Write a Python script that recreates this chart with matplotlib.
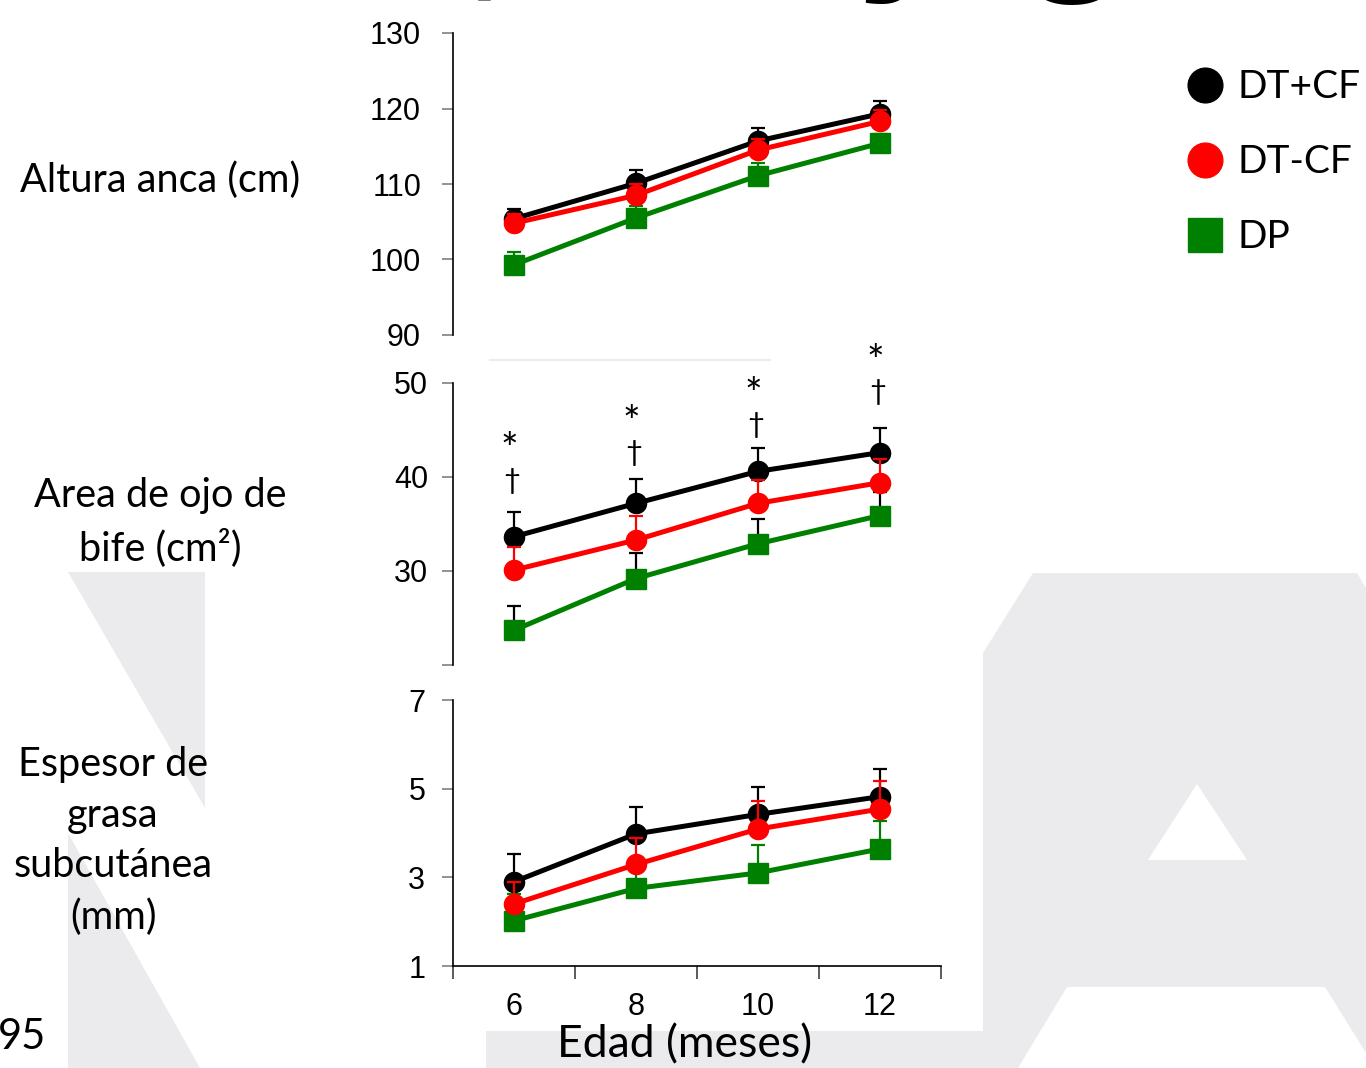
import matplotlib
matplotlib.use("Agg")
import matplotlib.pyplot as plt
from matplotlib.patches import Polygon
from matplotlib.lines import Line2D

# ---------------- data ----------------
meses = [6, 8, 10, 12]
grupos = ["DT+CF", "DT-CF", "DP"]

altura_dtcf_mas = [105.4, 110.1, 115.7, 119.3]
altura_dtcf_mas_err = [1.3, 1.8, 1.7, 1.7]
altura_dtcf_menos = [104.8, 108.5, 114.5, 118.3]
altura_dtcf_menos_err = [1.2, 1.5, 1.5, 1.5]
altura_dp = [99.3, 105.5, 111.1, 115.4]
altura_dp_err = [1.7, 1.6, 1.7, 1.2]

aob_dtcf_mas = [33.65, 37.2, 40.6, 42.6]
aob_dtcf_mas_err = [2.6, 2.55, 2.5, 2.6]
aob_dtcf_menos = [30.1, 33.3, 37.2, 39.4]
aob_dtcf_menos_err = [2.5, 2.6, 2.5, 2.5]
aob_dp = [23.7, 29.2, 32.9, 35.9]
aob_dp_err = [2.6, 2.7, 2.6, 2.5]
aob_star_y = [42.75, 45.65, 48.65, 52.15]
aob_dagger_y = [39.6, 42.55, 45.5, 49.0]

grasa_dtcf_mas = [2.90, 3.98, 4.42, 4.82]
grasa_dtcf_mas_err = [0.62, 0.61, 0.62, 0.62]
grasa_dtcf_menos = [2.40, 3.29, 4.09, 4.54]
grasa_dtcf_menos_err = [0.5, 0.6, 0.63, 0.64]
grasa_dp = [2.02, 2.75, 3.10, 3.64]
grasa_dp_err = [0.6, 0.55, 0.64, 0.62]

y_ticks_altura = [90, 100, 110, 120, 130]
y_ticks_aob = [20, 30, 40, 50]
y_tick_labels_aob = ["", "30", "40", "50"]
y_ticks_grasa = [1, 3, 5, 7]
x_major = [5, 7, 9, 11, 13]

# ---------------- figure ----------------
W, H = 1366, 1068
fig = plt.figure(figsize=(W / 100, H / 100), dpi=100)
fig.patch.set_facecolor("white")

def fx(x):
    return x / W

def fy(y):
    return 1 - y / H

WM = "#ebebed"
TXT_FONT = ["Lato", "DejaVu Sans"]
NUM_FONT = ["Liberation Sans", "DejaVu Sans"]

# watermark background shapes
def poly(pts, color):
    p = Polygon([(fx(a), fy(b)) for a, b in pts], closed=True, facecolor=color,
                edgecolor="none", transform=fig.transFigure, zorder=-10)
    fig.add_artist(p)

poly([(68, 572), (205, 572), (205, 808)], WM)
poly([(68, 833), (68, 1068), (200, 1068)], WM)
poly([(983, 653), (1033, 573), (1357, 573), (1366, 588), (1366, 1053),
      (1325, 987), (1067, 987), (1018, 1068), (486, 1068), (486, 1031),
      (983, 1031)], WM)
poly([(1148, 860), (1197, 784), (1247, 860)], "white")
fig.add_artist(Line2D([fx(490), fx(770)], [fy(360), fy(360)], color="#ececec",
                      lw=1.5, transform=fig.transFigure, zorder=-9))

# cut title fragment at top (only descenders are visible)
fig.text(fx(507), fy(-22), "Crecimiento,", fontsize=100, fontweight="bold",
         family=NUM_FONT, ha="right", va="baseline")
fig.text(fx(856), fy(-36), "y grasa", fontsize=138, fontweight="bold",
         family=NUM_FONT, ha="left", va="baseline")

AX_L, AX_R = 453, 941

def make_ax(top, bottom):
    ax = fig.add_axes([fx(AX_L), fy(bottom), (AX_R - AX_L) / W, (bottom - top) / H])
    ax.set_facecolor("none")
    for s in ["top", "right"]:
        ax.spines[s].set_visible(False)
    ax.spines["left"].set_linewidth(1.2)
    ax.set_xlim(5, 13)
    return ax

LW = 3.6
MS = 14.5

def series(ax, y, e, color, marker, ecolor, z):
    ax.errorbar(meses, y, yerr=[[0] * len(e), e], color=color, lw=LW, marker=marker,
                ms=MS, mec=color, mfc=color, ecolor=ecolor, elinewidth=1.6,
                capsize=5, capthick=1.6, zorder=z, clip_on=False)

# --- top panel
ax1 = make_ax(33, 335)
ax1.set_ylim(90, 130)
ax1.set_yticks(y_ticks_altura)
ax1.spines["bottom"].set_visible(False)
ax1.tick_params(axis="x", bottom=False, labelbottom=False)
ax1.tick_params(axis="y", length=8, width=1.2, color="#808080", pad=15, labelsize=22)
series(ax1, altura_dp, altura_dp_err, "#008000", "s", "#008000", 3)
series(ax1, altura_dtcf_mas, altura_dtcf_mas_err, "black", "o", "black", 4)
series(ax1, altura_dtcf_menos, altura_dtcf_menos_err, "#ff0000", "o", "#ff0000", 5)

# --- middle panel
ax2 = make_ax(383, 665)
ax2.set_ylim(20, 50)
ax2.set_yticks(y_ticks_aob)
ax2.set_yticklabels(y_tick_labels_aob)
ax2.spines["bottom"].set_visible(False)
ax2.tick_params(axis="x", bottom=False, labelbottom=False)
ax2.tick_params(axis="y", length=8, width=1.2, color="#808080", pad=10, labelsize=22)
series(ax2, aob_dp, aob_dp_err, "#008000", "s", "black", 3)
series(ax2, aob_dtcf_mas, aob_dtcf_mas_err, "black", "o", "black", 4)
series(ax2, aob_dtcf_menos, aob_dtcf_menos_err, "#ff0000", "o", "#ff0000", 5)
for x, ys, yd in zip(meses, aob_star_y, aob_dagger_y):
    ax2.text(x - 0.07, ys, "*", fontsize=30, family=TXT_FONT, ha="center",
             va="center", clip_on=False)
    ax2.text(x - 0.04, yd, "\u2020", fontsize=21, family=TXT_FONT, ha="center",
             va="center", clip_on=False)

# --- bottom panel
ax3 = make_ax(700, 966)
ax3.set_ylim(1, 7)
ax3.set_yticks(y_ticks_grasa)
ax3.spines["bottom"].set_linewidth(1.2)
ax3.set_xticks(x_major)
ax3.set_xticklabels([""] * len(x_major))
ax3.set_xticks(meses, minor=True)
ax3.set_xticklabels([str(m) for m in meses], minor=True)
ax3.tick_params(axis="x", which="major", length=9, width=1.2, color="#404040")
ax3.tick_params(axis="x", which="minor", length=0, pad=19, labelsize=22)
ax3.tick_params(axis="y", length=8, width=1.2, color="#808080", pad=12, labelsize=22)
series(ax3, grasa_dp, grasa_dp_err, "#008000", "s", "#008000", 3)
series(ax3, grasa_dtcf_mas, grasa_dtcf_mas_err, "black", "o", "black", 4)
series(ax3, grasa_dtcf_menos, grasa_dtcf_menos_err, "#ff0000", "o", "#ff0000", 5)

for ax in (ax1, ax2, ax3):
    for lab in ax.get_yticklabels() + ax.get_xticklabels(which="both"):
        lab.set_family(NUM_FONT)

# --- labels
fig.text(fx(160), fy(180), "Altura anca (cm)", fontsize=28.5, family=TXT_FONT,
         ha="center", va="center")
fig.text(fx(160), fy(522), "Area de ojo de\nbife (cm\u00b2)", fontsize=28.5,
         family=TXT_FONT, ha="center", va="center", linespacing=1.45)
fig.text(fx(113), fy(841), "Espesor de\ngrasa\nsubcut\u00e1nea\n(mm)", fontsize=28.5,
         family=TXT_FONT, ha="center", va="center", linespacing=1.45)
fig.text(fx(685), fy(1045), "Edad (meses)", fontsize=32, family=TXT_FONT,
         ha="center", va="center")
fig.text(fx(-2), fy(1037), "95", fontsize=30, family=TXT_FONT, ha="left",
         va="center")

# --- legend
handles = [
    Line2D([], [], ls="none", marker="o", color="black", ms=25),
    Line2D([], [], ls="none", marker="o", color="#ff0000", ms=25),
    Line2D([], [], ls="none", marker="s", color="#008000", ms=25),
]
fig.legend(handles, grupos, loc="upper left", bbox_to_anchor=(fx(1166), fy(50)),
           frameon=False, prop={"family": TXT_FONT, "size": 28},
           handlelength=1.0, handletextpad=0.35, labelspacing=1.0, borderpad=0)

fig.savefig("out.png", dpi=100)
